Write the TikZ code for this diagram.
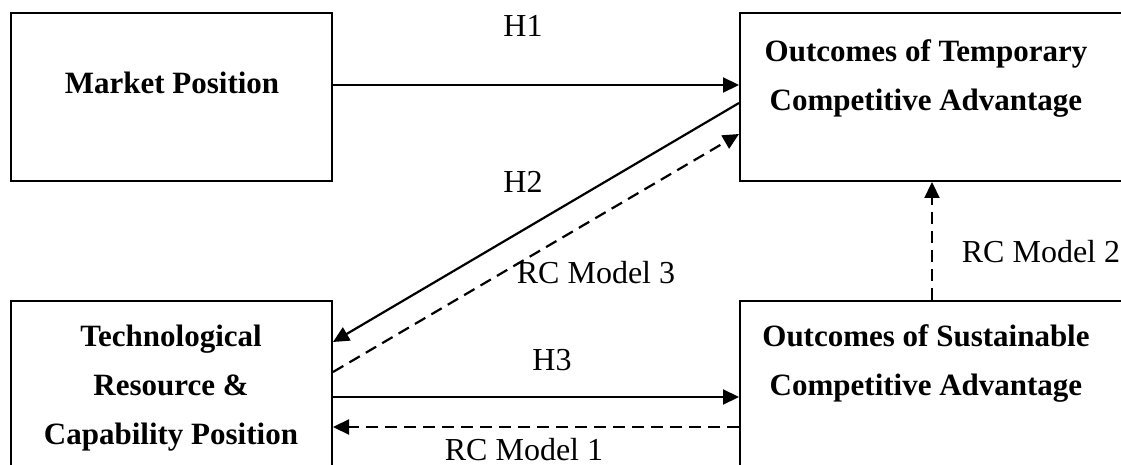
\documentclass[tikz,border=0pt]{standalone}
\usepackage{fontspec}
\setmainfont{Liberation Serif}
\usetikzlibrary{positioning,arrows.meta}

\begin{document}
\begin{tikzpicture}[x=0.5pt,y=-0.5pt,
  box/.style={draw,line width=1pt,inner sep=0pt,minimum width=160.5pt,minimum height=84pt},
  title/.style={align=center,font=\fontsize{15.5}{24.5}\selectfont\bfseries},
  lbl/.style={font=\fontsize{16}{19}\selectfont},
  link/.style={line width=1.1pt,-{Triangle[length=8pt,width=7.5pt]}},
  rclink/.style={link,dash pattern=on 6pt off 3.5pt}]
  \useasboundingbox (0,0) rectangle (1121,465);
  \node[box] (mp) at (171.5,97) {};
  \node[box,minimum width=195pt] (otca) at (935,97) {};
  \node[box,minimum height=90pt] (trcp) at (171.5,391) {};
  \node[box,minimum width=195pt,minimum height=90pt] (osca) at (935,391) {};
  \node[title] (mptext) at (172,83) {Market Position};
  \node[title] (otcatext) at (926,78.5) {Outcomes of Temporary\\Competitive Advantage};
  \node[title] (trcptext) at (171,388) {Technological\\Resource \&\\Capability Position};
  \node[title] (oscatext) at (926,363.5) {Outcomes of Sustainable\\Competitive Advantage};
  \draw[link] ([yshift=6pt]mp.east) -- ([yshift=6pt]otca.west);
  \draw[link] ([yshift=-3pt]otca.west) -- ([yshift=24.5pt]trcp.east);
  \draw[rclink] ([yshift=9.5pt]trcp.east) -- ([yshift=-18.5pt]otca.west);
  \draw[link] ([yshift=-3pt]trcp.east) -- ([yshift=-3pt]osca.west);
  \draw[rclink] ([yshift=-18pt]osca.west) -- ([yshift=-18pt]trcp.east);
  \draw[rclink] ([xshift=-1.5pt]osca.north) -- ([xshift=-1.5pt]otca.south);
  \node[lbl] (h1) at (523,26) {H1};
  \node[lbl] (h2) at (523,182) {H2};
  \node[lbl] (rc3) at (596,273) {RC Model 3};
  \node[lbl] (h3) at (552,360) {H3};
  \node[lbl] (rc1) at (524,450) {RC Model 1};
  \node[lbl] (rc2) at (1041,252) {RC Model 2};
\end{tikzpicture}
\end{document}
